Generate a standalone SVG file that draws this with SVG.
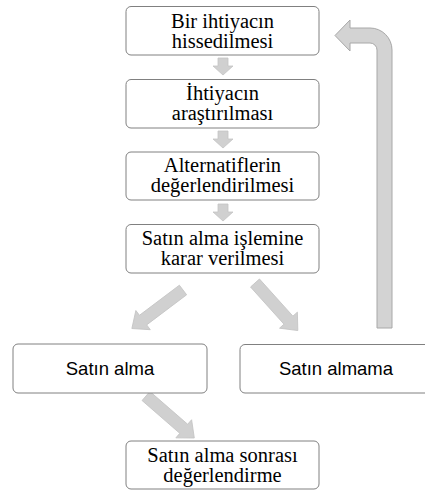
<svg xmlns="http://www.w3.org/2000/svg" width="425" height="491" viewBox="0 0 425 491">
<style>
.box{fill:#fff;stroke:#808080;stroke-width:1}
.serif{font-family:"Liberation Serif","Times New Roman",serif;font-size:20.5px;fill:#000;text-anchor:middle}
.sans{font-family:"Liberation Sans",Arial,sans-serif;font-size:18.5px;fill:#000;text-anchor:middle}
.arr{fill:#d0d0d0;stroke:#c4c4c4;stroke-width:0.8}
.ret{fill:#d3d3d3;stroke:#a8a8a8;stroke-width:1}
</style>
<defs>
<path id="down" d="M-5,0 L5,0 L5,8 L10,8 L0,17 L-10,8 L-5,8 Z"/>
<path id="diag" d="M-6,0 L6,0 L6,-50 L12,-50 L0,-64 L-12,-50 L-6,-50 Z"/>
</defs>
<g id="connectors">
<use href="#down" class="arr" x="223" y="58"/>
<use href="#down" class="arr" x="223" y="131"/>
<use href="#down" class="arr" x="223" y="204"/>
<use href="#diag" class="arr" transform="translate(183,290) rotate(-127)"/>
<use href="#diag" class="arr" transform="translate(255,283) rotate(138)"/>
<use href="#diag" class="arr" transform="translate(146,396) rotate(131)"/>
<path class="ret" d="M377,328 L392,328 L392,50 A22,22 0 0 0 370,28 L350,28 L350,20 L335,35.5 L350,51 L350,43 L370,43 A7,7 0 0 1 377,50 Z"/>
</g>
<g id="n1">
<rect class="box" x="126" y="6.5" width="193" height="48.5" rx="5"/>
<text class="serif" x="222.5" y="28">Bir ihtiyacın</text>
<text class="serif" x="222.5" y="48">hissedilmesi</text>
</g>
<g id="n2">
<rect class="box" x="126" y="79.5" width="193" height="48.5" rx="5"/>
<text class="serif" x="222.5" y="100">İhtiyacın</text>
<text class="serif" x="222.5" y="120">araştırılması</text>
</g>
<g id="n3">
<rect class="box" x="126" y="152" width="193" height="48" rx="5"/>
<text class="serif" x="222.5" y="172">Alternatiflerin</text>
<text class="serif" x="222.5" y="192">değerlendirilmesi</text>
</g>
<g id="n4">
<rect class="box" x="126" y="224.5" width="193" height="48.5" rx="5"/>
<text class="serif" x="222.5" y="245">Satın alma işlemine</text>
<text class="serif" x="222.5" y="265">karar verilmesi</text>
</g>
<g id="n5">
<rect class="box" x="13" y="344" width="194" height="49" rx="5"/>
<text class="sans" x="110" y="375">Satın alma</text>
</g>
<g id="n6">
<rect class="box" x="240" y="344.5" width="192" height="48.5" rx="5"/>
<text class="sans" x="336" y="375">Satın almama</text>
</g>
<g id="n7">
<rect class="box" x="126" y="441" width="193" height="48" rx="5"/>
<text class="serif" x="222.5" y="462">Satın alma sonrası</text>
<text class="serif" x="222.5" y="482">değerlendirme</text>
</g>
</svg>
